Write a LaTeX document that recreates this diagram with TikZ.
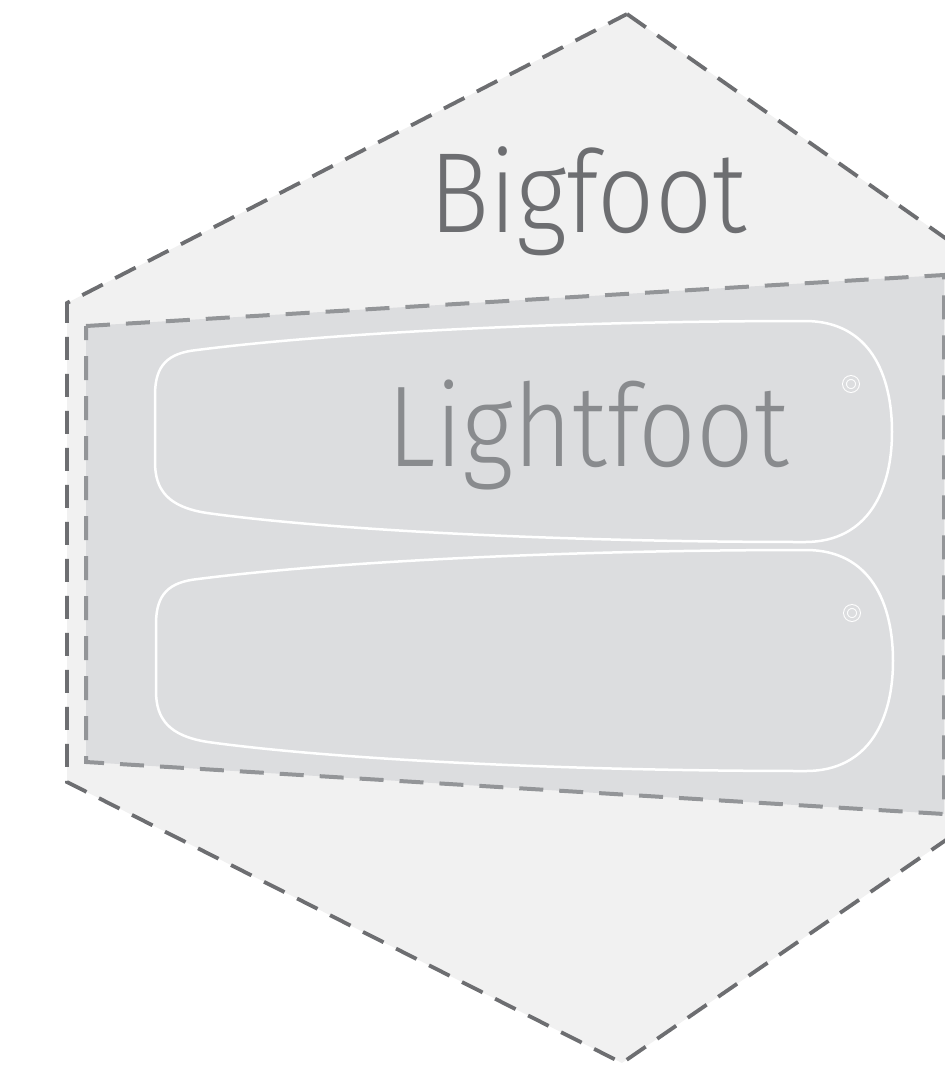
\documentclass[tikz,border=0pt]{standalone}
\usepackage{fontspec}
\newfontfamily\dinfont{Fira Sans Light}[FakeStretch=0.88]
\definecolor{hexfill}{HTML}{F1F1F1}
\definecolor{hexline}{HTML}{6D6E71}
\definecolor{trayfill}{HTML}{DCDDDF}
\definecolor{trayline}{HTML}{939598}
\definecolor{lighttext}{HTML}{898B8E}
\tikzset{
  hex/.style={fill=hexfill, draw=hexline, line width=1.9pt, dash pattern=on 11.5pt off 7pt, line join=miter},
  tray/.style={fill=trayfill, draw=trayline, line width=2pt, dash pattern=on 12pt off 8pt},
  sole/.style={draw=white, line width=1.25pt},
  eyelet/.style={circle, draw=white, line width=0.5pt, double=trayfill, double distance=1.4pt, minimum size=6.5pt, inner sep=0pt},
  big label/.style={font=\dinfont\fontsize{57}{64}\selectfont, text=hexline, anchor=base},
  light label/.style={font=\dinfont\fontsize{57.5}{64}\selectfont, text=lighttext, anchor=base}
}
\tikzset{
  pics/insole/.style={
    code={
      \draw[sole] (0,74) .. controls (0,44) and (13,32) .. (42,29)
        .. controls (175,12) and (405,0) .. (650,0)
        .. controls (715,0) and (737,54) .. (737,111)
        .. controls (737,169) and (713,221) .. (650,221)
        .. controls (405,221) and (175,209) .. (52,192)
        .. controls (13,186) and (0,169) .. (0,141) -- cycle;
      \node[eyelet] (#1 eyelet) at (696,63) {};
    }
  }
}
\begin{document}
\begin{tikzpicture}[x=0.5pt, y=-0.5pt]
  \useasboundingbox (0,0) rectangle (945,1067);
  \clip (0,0) rectangle (945,1067);

  \draw[hex] (627,14) -- (1100,347) -- (1100,734) -- (622,1063) -- (67,782) -- (67,303) -- cycle;
  \draw[tray] (86,326) -- (944,275) -- (944,814) -- (86,762) -- cycle;

  \pic at (155,321) {insole=upper};
  \pic at (156,550) {insole=lower};

  \node[big label] (bigfoot) at (588,232) {Bigfoot};
  \node[light label] (lightfoot) at (588,466) {Lightfoot};
\end{tikzpicture}
\end{document}
